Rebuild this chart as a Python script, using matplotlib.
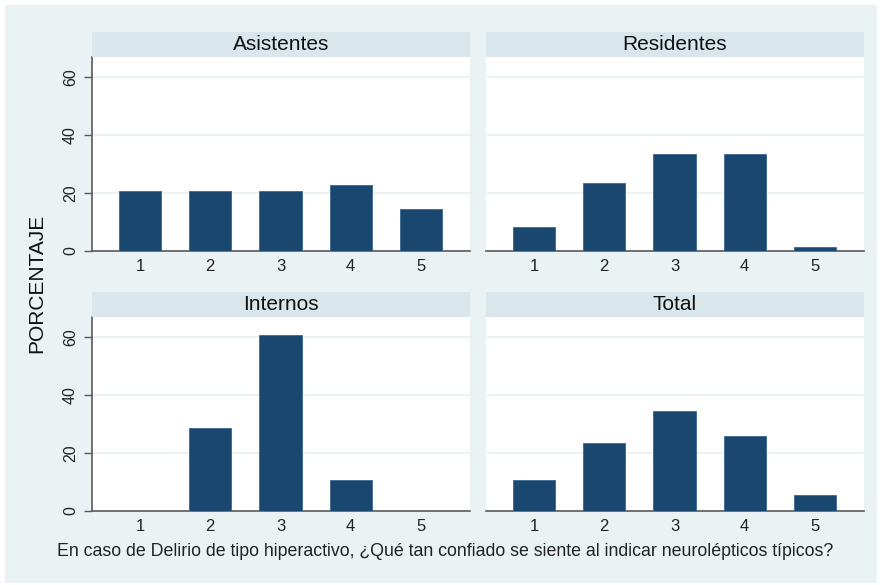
import matplotlib
matplotlib.use("Agg")
import matplotlib.pyplot as plt
from matplotlib.patches import Rectangle

# percentage of respondents per confidence level (1-5), by group
niveles = [1, 2, 3, 4, 5]
grupos = ["Asistentes", "Residentes", "Internos", "Total"]
asistentes = [20.8, 20.8, 20.8, 22.9, 14.6]
residentes = [8.3, 23.6, 33.3, 33.3, 1.4]
internos = [0.0, 28.6, 60.7, 10.7, 0.0]
total = [10.8, 23.6, 34.5, 25.7, 5.4]
y_ticks = [0, 20, 40, 60]

series = [asistentes, residentes, internos, total]

BG = "#EAF2F3"
STRIP = "#D9E6EC"
BAR = "#1A476F"
AXIS = "#5A5A5A"

plt.rcParams["font.family"] = ["Liberation Sans", "DejaVu Sans"]

W, H = 880, 585
fig = plt.figure(figsize=(W / 100, H / 100), dpi=100, facecolor="white")
fig.patches.append(Rectangle((5 / W, 1 - 583 / H), 872 / W, 578 / H,
                             transform=fig.transFigure, facecolor=BG,
                             edgecolor="none", zorder=-10))

# panel boxes in pixels: (left, top, right, bottom)
cols = [(92, 470), (486, 864)]
rows = [(57, 251), (317, 511)]
strip_h = 25

for i, (nombre, vals) in enumerate(zip(grupos, series)):
    r, c = divmod(i, 2)
    x0, x1 = cols[c]
    y0, y1 = rows[r]
    ax = fig.add_axes([x0 / W, 1 - y1 / H, (x1 - x0) / W, (y1 - y0) / H])
    ax.set_facecolor("white")
    ax.bar(niveles, vals, width=0.6, color=BAR, edgecolor="#3A6790",
           linewidth=0.6, zorder=3)
    ax.set_xlim(0.316, 5.70)
    ax.set_ylim(0, 66.9)
    ax.set_yticks(y_ticks)
    ax.set_xticks(niveles)
    ax.grid(axis="y", color=BG, linewidth=1.5, zorder=0)
    ax.set_axisbelow(True)
    for s in ["top", "right"]:
        ax.spines[s].set_visible(False)
    ax.spines["bottom"].set_color(AXIS)
    ax.spines["bottom"].set_linewidth(1.2)
    ax.tick_params(axis="x", length=0, pad=6, labelsize=12, labelcolor="#222222")
    if c == 0:
        ax.spines["left"].set_color(AXIS)
        ax.spines["left"].set_linewidth(1.2)
        ax.tick_params(axis="y", length=6, width=1, color=AXIS, pad=4,
                       labelsize=11.5, labelcolor="#222222")
        for lbl in ax.get_yticklabels():
            lbl.set_rotation(90)
            lbl.set_va("center")
    else:
        ax.spines["left"].set_visible(False)
        ax.tick_params(axis="y", length=0, labelleft=False)

    # strip title above each panel
    sax = fig.add_axes([x0 / W, 1 - y0 / H, (x1 - x0) / W, strip_h / H])
    sax.set_facecolor(STRIP)
    sax.set_xticks([])
    sax.set_yticks([])
    for s in sax.spines.values():
        s.set_visible(False)
    sax.text(0.5, 0.5, nombre, ha="center", va="center", fontsize=15,
             color="#111111", transform=sax.transAxes)

fig.text(37 / W, 1 - 283 / H, "PORCENTAJE", rotation=90, ha="center",
         va="center", fontsize=15, color="#111111")
fig.text(445 / W, 1 - 552 / H,
         "En caso de Delirio de tipo hiperactivo, ¿Qué tan confiado se siente "
         "al indicar neurolépticos típicos?",
         ha="center", va="center", fontsize=12.8, color="#222222")

fig.savefig("out.png", dpi=100, facecolor="white")
